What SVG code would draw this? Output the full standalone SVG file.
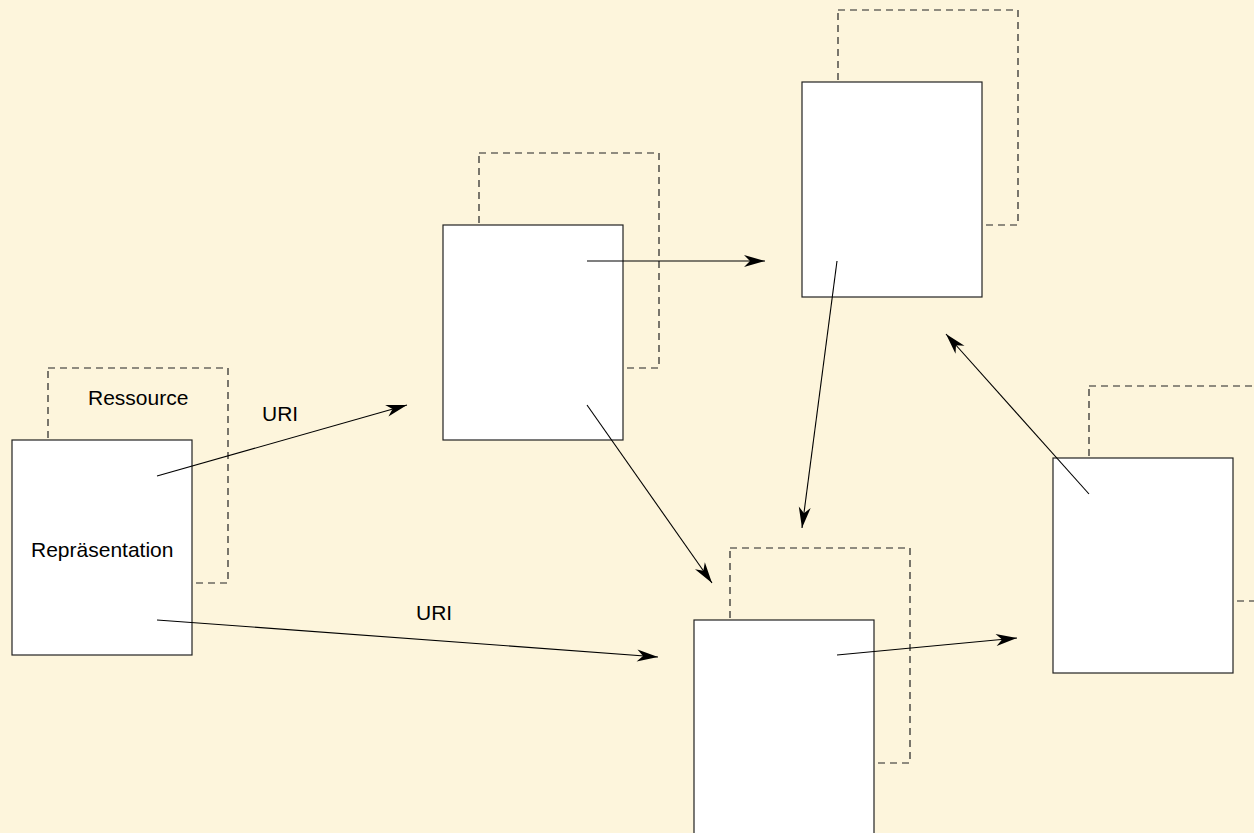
<svg xmlns="http://www.w3.org/2000/svg" width="1254" height="833" viewBox="0 0 1254 833">
  <style>
    .res { fill: none; stroke: #222; stroke-width: 1.2; stroke-dasharray: 7 5; }
    .rep { fill: #ffffff; stroke: #222; stroke-width: 1.2; }
    .link { fill: none; stroke: #000; stroke-width: 1.1; marker-end: url(#arrow); }
    .lbl { font-family: "Liberation Sans", Arial, sans-serif; font-size: 21px; fill: #000; }
  </style>
  <defs>
    <marker id="arrow" markerUnits="userSpaceOnUse" orient="auto" markerWidth="24" markerHeight="14" refX="0" refY="0" viewBox="-22 -7 24 14" overflow="visible">
      <path d="M0,0 L-21,-6 L-15,0 L-21,6 Z" fill="#000"/>
    </marker>
  </defs>
  <rect width="1254" height="833" fill="#fdf5dc"/>

  <!-- resource A: Repräsentation -->
  <g id="node-a">
    <rect class="res" x="48" y="368" width="180" height="215"/>
    <rect class="rep" x="12" y="440" width="180" height="215"/>
    <text class="lbl" x="88" y="405">Ressource</text>
    <text class="lbl" x="31" y="557">Repräsentation</text>
  </g>

  <!-- resource B -->
  <g id="node-b">
    <rect class="res" x="479" y="153" width="180" height="215"/>
    <rect class="rep" x="443" y="225" width="180" height="215"/>
  </g>

  <!-- resource C -->
  <g id="node-c">
    <rect class="res" x="838" y="10" width="180" height="215"/>
    <rect class="rep" x="802" y="82" width="180" height="215"/>
  </g>

  <!-- resource D -->
  <g id="node-d">
    <rect class="res" x="730" y="548" width="180" height="215"/>
    <rect class="rep" x="694" y="620" width="180" height="215"/>
  </g>

  <!-- resource E -->
  <g id="node-e">
    <rect class="res" x="1089" y="386" width="180" height="215"/>
    <rect class="rep" x="1053" y="458" width="180" height="215"/>
  </g>

  <!-- links between representations -->
  <g id="connectors">
    <line class="link" x1="157" y1="476" x2="407" y2="405"/>
    <line class="link" x1="157" y1="620" x2="658" y2="657"/>
    <line class="link" x1="587" y1="261" x2="765" y2="261"/>
    <line class="link" x1="587" y1="405" x2="712" y2="583"/>
    <line class="link" x1="837" y1="261" x2="802" y2="528"/>
    <line class="link" x1="837" y1="655" x2="1017" y2="638"/>
    <line class="link" x1="1089" y1="494" x2="946" y2="334"/>
    <text class="lbl" x="262" y="421">URI</text>
    <text class="lbl" x="416" y="620">URI</text>
  </g>
</svg>
